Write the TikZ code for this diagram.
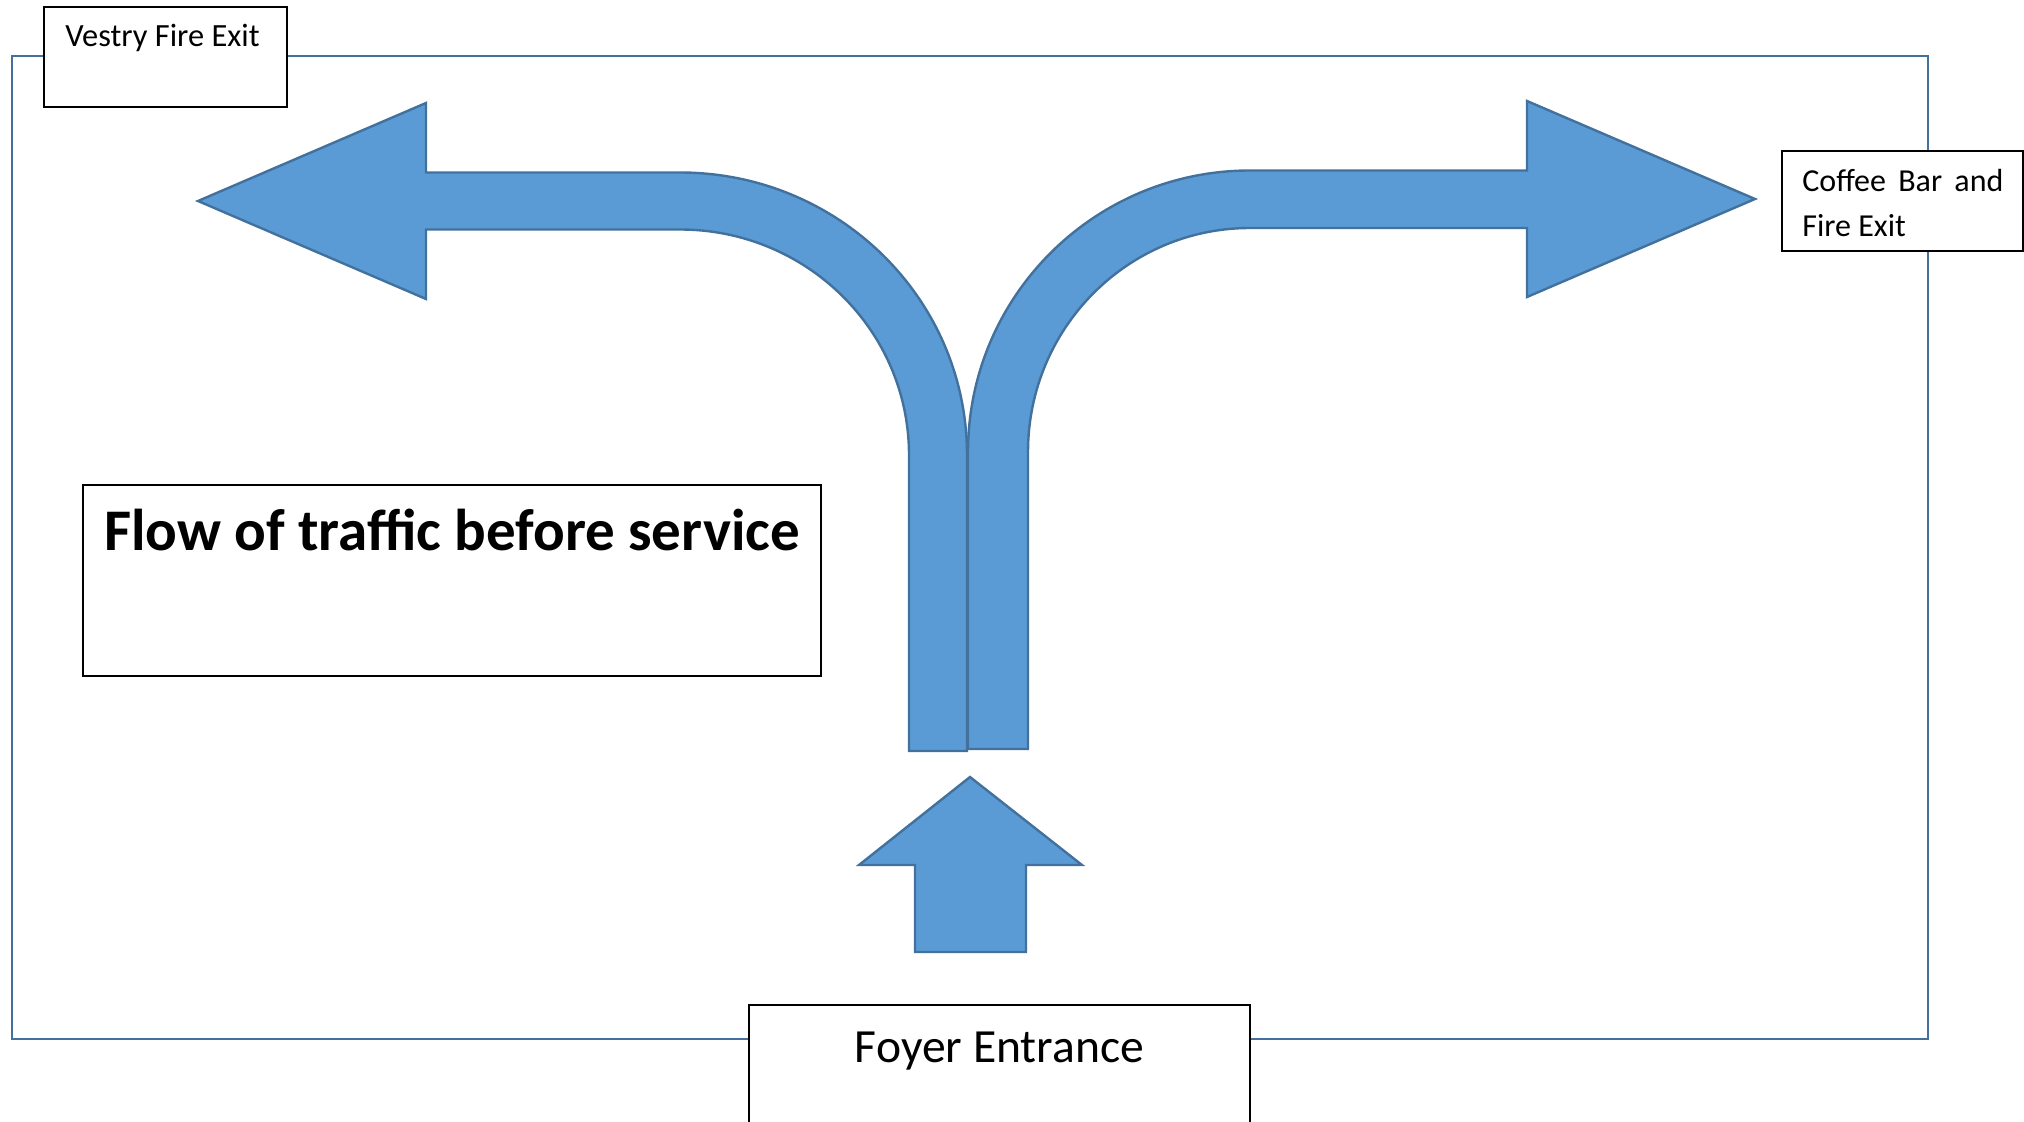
\documentclass[tikz,border=0pt]{standalone}
\usepackage{fontspec}
\setmainfont{Carlito}
\usetikzlibrary{positioning, calc}
\definecolor{flowfill}{HTML}{5B9BD5}
\definecolor{flowedge}{HTML}{41719C}

\begin{document}
\begin{tikzpicture}[
    x=0.5pt, y=0.5pt,
    sign/.style={rectangle, draw=black, fill=white, line width=0.8pt,
                 inner sep=0pt, outer sep=0pt},
    flowarrow/.style={fill=flowfill, draw=flowedge, line width=1.2pt, line join=miter},
    signtext/.style={inner sep=0pt, anchor=base west}
]
\clip (0,0) rectangle (2024,1121);

% Room outline
\draw[flowedge, line width=1.4pt] (12,82) rectangle (1928,1065);

% Flow arrows
\draw[flowarrow] (198,920) -- (426,1018) -- (426,948.5) -- (680,948.5)
    arc[start angle=90, end angle=0, x radius=287, y radius=282.5]
    -- (967,370) -- (909,370) -- (909,666)
    arc[start angle=0, end angle=90, x radius=229, y radius=225.5]
    -- (426,891.5) -- (426,822) -- cycle;
\draw[flowarrow] (968,372) -- (968,669)
    arc[start angle=180, end angle=90, x radius=282, y radius=281.5]
    -- (1527,950.5) -- (1527,1020) -- (1755,922) -- (1527,824) -- (1527,893) -- (1250,893)
    arc[start angle=90, end angle=180, x radius=222, y radius=224]
    -- (1028,372) -- cycle;
\draw[flowarrow] (970,344) -- (1082,256) -- (1026,256) -- (1026,169)
    -- (915,169) -- (915,256) -- (859,256) -- cycle;

% Signs
\node[sign, minimum width=121.5pt, minimum height=50pt] (vestry) at (165.5,1064) {};
\node[signtext, font=\fontsize{16.2}{18}\selectfont] (vestrytext)
    at ([shift={(21,-40)}]vestry.north west) {Vestry Fire Exit};

\node[sign, minimum width=120.5pt, minimum height=50pt] (coffee) at (1902.5,920) {};
\node[signtext, font=\fontsize{16}{22.5}\selectfont, text width=100.5pt, align=justify] (coffeetext)
    at ([shift={(20,-41)}]coffee.north west) {Coffee Bar and Fire Exit};

\node[sign, minimum width=369pt, minimum height=95.5pt] (flowbox) at (452,540.5) {};
\node[inner sep=0pt, anchor=base, font=\fontsize{29.5}{34}\selectfont\bfseries] (flowtitle)
    at ([shift={(0,-65)}]flowbox.north) {Flow of traffic before service};

\node[sign, minimum width=250.5pt, minimum height=70pt] (foyer) at (999.5,46) {};
\node[inner sep=0pt, anchor=base, font=\fontsize{23.8}{28}\selectfont] (foyertext)
    at ([shift={(0,-57)}]foyer.north) {Foyer Entrance};

\end{tikzpicture}
\end{document}
